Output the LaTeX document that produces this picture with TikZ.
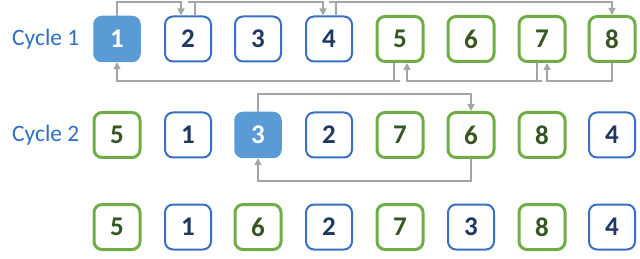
\documentclass[tikz,border=0pt]{standalone}
\usepackage{fontspec}
\setmainfont{Carlito}
\usetikzlibrary{arrows.meta,calc}
\definecolor{bblue}{HTML}{3A70C4}
\definecolor{fblue}{HTML}{5B9BD5}
\definecolor{navy}{HTML}{1F3864}
\definecolor{ggreen}{HTML}{70AD47}
\definecolor{dgreen}{HTML}{375623}
\definecolor{agray}{HTML}{A5A5A5}
\definecolor{lblue}{HTML}{2E6FC6}
\tikzset{
  cell/.style={minimum width=46pt,minimum height=45pt,rounded corners=8pt,inner sep=0pt,
    font=\fontsize{27}{27}\selectfont\bfseries},
  bluebox/.style={cell,draw=bblue,line width=2pt,text=navy,fill=white},
  greenbox/.style={cell,draw=ggreen,line width=3pt,text=dgreen,fill=white},
  hotbox/.style={cell,draw=fblue,fill=fblue,line width=1.5pt,text=white},
  lbl/.style={anchor=west,text=lblue,font=\fontsize{23.5}{23.5}\selectfont,inner sep=0pt},
  arr/.style={draw=agray,line width=1.4pt,-{Triangle[length=7pt,width=7pt]}},
}
\begin{document}
\begin{tikzpicture}[x=1pt,y=1pt]
\useasboundingbox (0,0) rectangle (640,-259);
% row 1
\node[lbl] (c1) at (12,-39) {Cycle 1};
\node[hotbox] (a1) at (117,-39) {1};
\node[bluebox] (a2) at (188,-39) {2};
\node[bluebox] (a3) at (258,-39) {3};
\node[bluebox] (a4) at (329,-39) {4};
\node[greenbox] (a5) at (400,-39) {5};
\node[greenbox] (a6) at (471,-39) {6};
\node[greenbox] (a7) at (542,-39) {7};
\node[greenbox] (a8) at (612,-39) {8};
% row 2
\node[lbl] (c2) at (12,-135) {Cycle 2};
\node[greenbox] (b1) at (117,-135) {5};
\node[bluebox] (b2) at (188,-135) {1};
\node[hotbox] (b3) at (258,-135) {3};
\node[bluebox] (b4) at (329,-135) {2};
\node[greenbox] (b5) at (400,-135) {7};
\node[greenbox] (b6) at (471,-135) {6};
\node[greenbox] (b7) at (542,-135) {8};
\node[bluebox] (b8) at (612,-135) {4};
% row 3
\node[greenbox] (d1) at (117,-227) {5};
\node[bluebox] (d2) at (188,-227) {1};
\node[greenbox] (d3) at (258,-227) {6};
\node[bluebox] (d4) at (329,-227) {2};
\node[greenbox] (d5) at (400,-227) {7};
\node[bluebox] (d6) at (471,-227) {3};
\node[greenbox] (d7) at (542,-227) {8};
\node[bluebox] (d8) at (612,-227) {4};
% row 1 connectors
\coordinate (t1) at (0,-2);
\coordinate (u1) at (0,-81);
\draw[arr] (a1.north) |- (t1 -| a1.north) -| ([xshift=-7pt]a2.north);
\draw[arr] ([xshift=7pt]a2.north) |- (t1 -| a2.north) -| ([xshift=-6pt]a4.north);
\draw[arr] ([xshift=7pt]a4.north) |- (t1 -| a4.north) -| (a8.north);
\draw[arr] ([xshift=-6pt]a5.south) |- (u1 -| a5.south) -| (a1.south);
\draw[arr] ([xshift=-5pt]a7.south) |- (u1 -| a7.south) -| ([xshift=7pt]a5.south);
\draw[arr] (a8.south) |- (u1 -| a8.south) -| ([xshift=5pt]a7.south);
% row 2 connectors
\coordinate (t2) at (0,-94);
\coordinate (u2) at (0,-181);
\draw[arr] (b3.north) |- (t2 -| b3.north) -| (b6.north);
\draw[arr] (b6.south) |- (u2 -| b6.south) -| (b3.south);
\end{tikzpicture}
\end{document}
